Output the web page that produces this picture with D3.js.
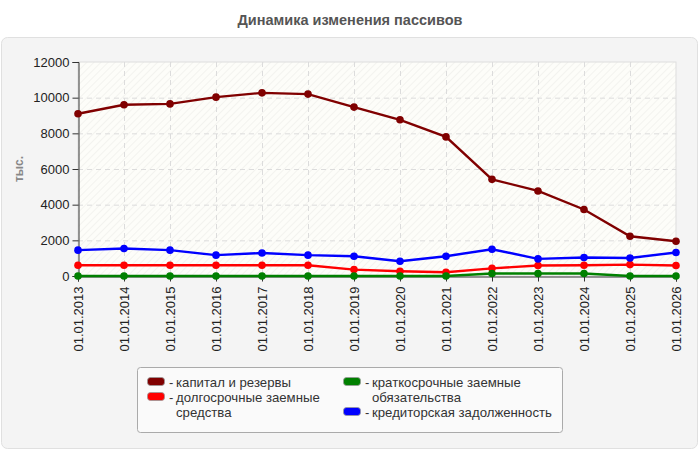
<html>
<head>
<meta charset="utf-8">
<script src="https://cdn.jsdelivr.net/npm/d3@7"></script>
<style>
  body { margin: 0; background: #fff; }
  text { font-family: "Liberation Sans", Arial, sans-serif; }
</style>
</head>
<body>
<script>
    var dates = ['01.01.2013', '01.01.2014', '01.01.2015', '01.01.2016', '01.01.2017', '01.01.2018', '01.01.2019',
        '01.01.2020', '01.01.2021', '01.01.2022', '01.01.2023', '01.01.2024', '01.01.2025', '01.01.2026'];

    var capital = [9100, 9600, 9650, 10030, 10270, 10200, 9470, 8760, 7800, 5420, 4770, 3730, 2230, 1950];
    var longTerm = [600, 600, 600, 600, 600, 600, 360, 265, 210, 430, 590, 600, 640, 590];
    var shortTerm = [0, 0, 0, 0, 0, 0, 0, 0, 0, 140, 140, 140, 0, 0];
    var payables = [1450, 1540, 1450, 1170, 1290, 1170, 1110, 830, 1110, 1500, 960, 1040, 1010, 1320];

    var yTicks = [0, 2000, 4000, 6000, 8000, 10000, 12000];

    var series = [
        { name: 'капитал и резервы', color: '#800000', values: capital },
        { name: 'долгосрочные заемные средства', color: '#ff0000', values: longTerm },
        { name: 'краткосрочные заемные обязательства', color: '#008000', values: shortTerm },
        { name: 'кредиторская задолженность', color: '#0000ff', values: payables }
    ];

    var w = 700, h = 450;
    var pLeft = 78, pRight = 676, pTop = 62, pBottom = 276;

    var svg = d3.select('body').append('svg')
        .attr('width', w)
        .attr('height', h);

    // hatch pattern for plot area
    var pat = svg.append('defs').append('pattern')
        .attr('id', 'hatch')
        .attr('width', 5).attr('height', 5)
        .attr('patternUnits', 'userSpaceOnUse')
        .attr('patternTransform', 'rotate(45)');
    pat.append('rect').attr('width', 5).attr('height', 5).attr('fill', '#fdfdf9');
    pat.append('line').attr('x1', 0).attr('y1', 0).attr('x2', 0).attr('y2', 5)
        .attr('stroke', '#f1f1ed').attr('stroke-width', 1.6);

    svg.append('text')
        .attr('x', w / 2).attr('y', 25)
        .attr('text-anchor', 'middle')
        .attr('font-size', 14.5).attr('font-weight', 'bold')
        .attr('fill', '#555')
        .text('Динамика изменения пассивов');

    svg.append('rect')
        .attr('x', 1.5).attr('y', 37.5)
        .attr('width', 696).attr('height', 411)
        .attr('rx', 6)
        .attr('fill', '#f4f4f4')
        .attr('stroke', '#e0e0e0');

    var x = d3.scalePoint().domain(dates).range([pLeft, pRight]);
    var y = d3.scaleLinear().domain([0, 12000]).range([pBottom, pTop]);

    svg.append('rect')
        .attr('x', pLeft).attr('y', pTop)
        .attr('width', pRight - pLeft).attr('height', pBottom - pTop)
        .attr('fill', 'url(#hatch)')
        .attr('stroke', '#dddddd');

    // grid
    svg.append('g').selectAll('line.h')
        .data(yTicks.slice(1, -1))
        .enter().append('line')
        .attr('x1', pLeft).attr('x2', pRight)
        .attr('y1', (d) => y(d) + 0.5).attr('y2', (d) => y(d) + 0.5)
        .attr('stroke', '#dcdcdc').attr('stroke-dasharray', '5,4');

    svg.append('g').selectAll('line.v')
        .data(dates.slice(1, -1))
        .enter().append('line')
        .attr('x1', (d) => x(d) + 0.5).attr('x2', (d) => x(d) + 0.5)
        .attr('y1', pTop).attr('y2', pBottom)
        .attr('stroke', '#dcdcdc').attr('stroke-dasharray', '5,4');

    // axes
    var yAxis = svg.append('g')
        .attr('transform', 'translate(' + (pLeft + 0.5) + ',0)')
        .call(d3.axisLeft(y).tickValues(yTicks).tickSize(6).tickPadding(3).tickFormat(d3.format('d')));
    yAxis.select('.domain').attr('stroke', '#333');
    yAxis.selectAll('.tick line').attr('stroke', '#333');
    yAxis.selectAll('text').attr('font-size', 13).attr('fill', '#222')
        .attr('font-family', '"Liberation Sans", Arial, sans-serif');

    var xAxis = svg.append('g')
        .attr('transform', 'translate(0,' + (pBottom + 0.5) + ')')
        .call(d3.axisBottom(x).tickSize(5).tickPadding(6));
    xAxis.select('.domain').attr('stroke', '#333');
    xAxis.selectAll('.tick line').attr('stroke', '#333');
    xAxis.selectAll('text')
        .attr('font-size', 13).attr('fill', '#222')
        .attr('font-family', '"Liberation Sans", Arial, sans-serif')
        .attr('transform', 'rotate(-90)')
        .attr('text-anchor', 'end')
        .attr('x', -10).attr('y', 0).attr('dy', '0.35em');

    svg.append('text')
        .attr('transform', 'translate(23,' + ((pTop + pBottom) / 2) + ') rotate(-90)')
        .attr('text-anchor', 'middle')
        .attr('font-size', 12).attr('font-weight', 'bold')
        .attr('fill', '#888')
        .text('тыс.');

    var line = d3.line()
        .x((d, i) => x(dates[i]))
        .y((d) => y(d));

    var g = svg.append('g');
    series.forEach((s) => {
        g.append('path')
            .attr('d', line(s.values))
            .attr('fill', 'none')
            .attr('stroke', s.color)
            .attr('stroke-width', 2.4);
        g.selectAll(null)
            .data(s.values)
            .enter().append('circle')
            .attr('cx', (d, i) => x(dates[i]))
            .attr('cy', (d) => y(d))
            .attr('r', 3.8)
            .attr('fill', s.color);
    });

    // legend
    var lg = svg.append('g');
    lg.append('rect')
        .attr('x', 137.5).attr('y', 367.5)
        .attr('width', 425).attr('height', 65)
        .attr('rx', 3)
        .attr('fill', '#fafafa')
        .attr('stroke', '#aaa');

    var legendItems = [
        { s: series[0], x: 147, y: 382, lines: ['капитал и резервы'] },
        { s: series[1], x: 147, y: 397, lines: ['долгосрочные заемные', 'средства'] },
        { s: series[2], x: 343, y: 382, lines: ['краткосрочные заемные', 'обязательства'] },
        { s: series[3], x: 343, y: 412, lines: ['кредиторская задолженность'] }
    ];

    legendItems.forEach((it) => {
        lg.append('rect')
            .attr('x', it.x + 0.5).attr('y', it.y - 4.5)
            .attr('width', 17).attr('height', 8)
            .attr('rx', 3)
            .attr('fill', it.s.color)
            .attr('stroke', '#999').attr('stroke-width', 0.8);
        lg.append('text')
            .attr('x', it.x + 22).attr('y', it.y + 4.5)
            .attr('font-size', 13).attr('fill', '#333')
            .text('-');
        it.lines.forEach((t, k) => {
            lg.append('text')
                .attr('x', it.x + 29).attr('y', it.y + 4.5 + k * 15)
                .attr('font-size', 13.2).attr('fill', '#333')
                .text(t);
        });
    });
</script>
</body>
</html>
